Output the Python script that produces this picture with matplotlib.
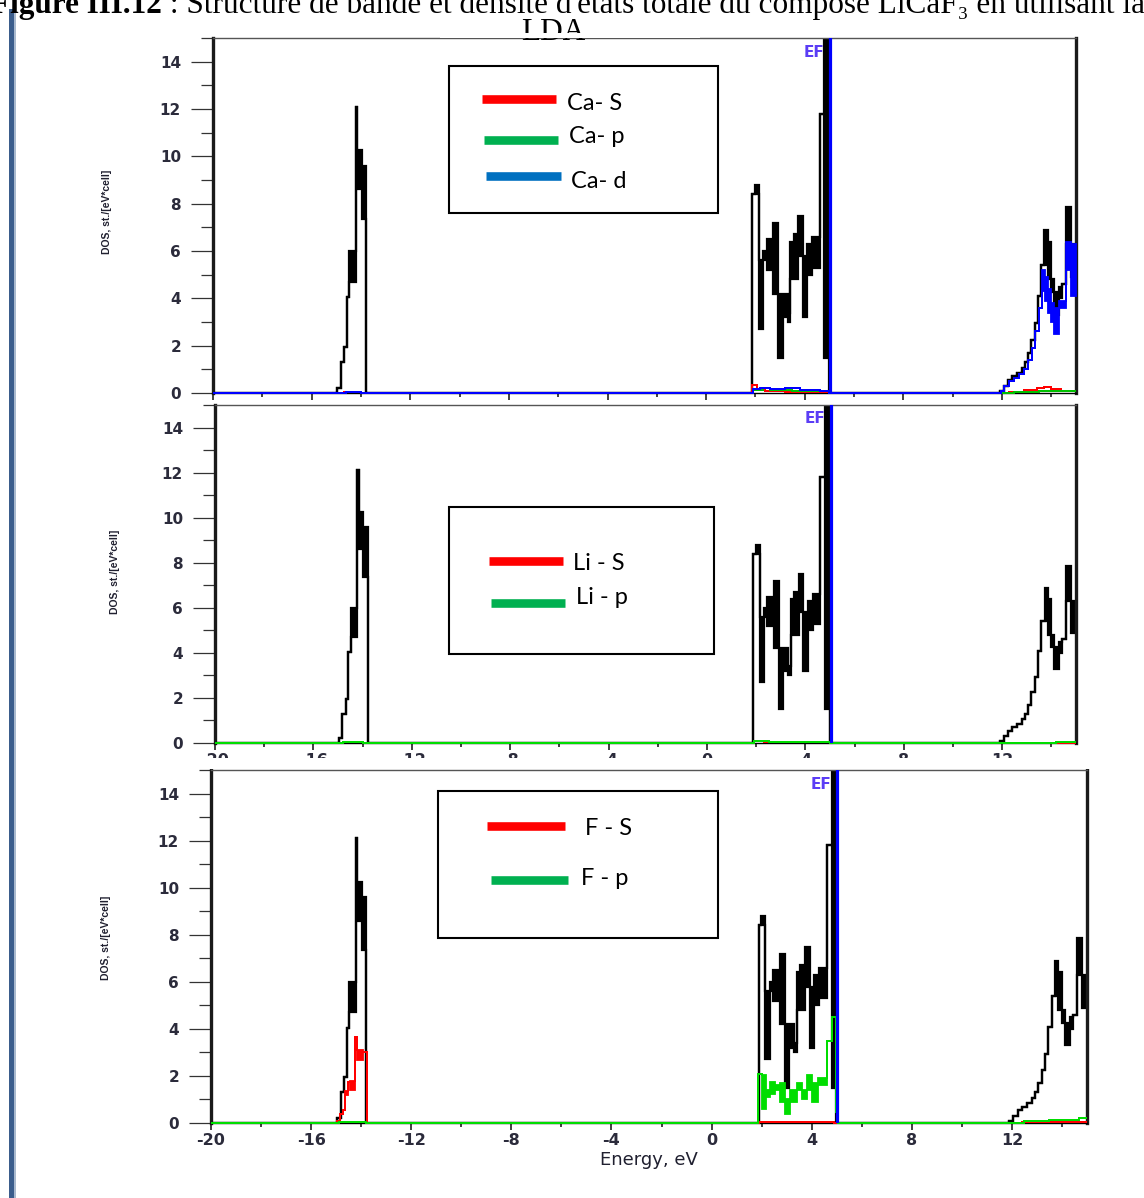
import matplotlib
matplotlib.use("Agg")
import matplotlib.pyplot as plt
from matplotlib.patches import Rectangle
from matplotlib import font_manager

# ---------------------------------------------------------------- data
E_MIN, E_MAX = -20.0, 15.0
DOS_MAX = 15.0
E_FERMI = 5.03

x_major = [-20, -16, -12, -8, -4, 0, 4, 8, 12]
x_minor = [-18, -14, -10, -6, -2, 2, 6, 10, 14]
x_labels = ["-20", "-16", "-12", "-8", "-4", "0", "4", "8", "12"]
y_major = [0, 2, 4, 6, 8, 10, 12, 14]
y_minor = [1, 3, 5, 7, 9, 11, 13, 15]
y_labels = ["0", "2", "4", "6", "8", "10", "12", "14"]

# Total DOS (states/eV/cell) on energy bins; where the curve oscillates fast
# inside a bin, tot_lo/tot_hi give the band it sweeps through.
tot_edges = [-20.0, -14.96, -14.82, -14.69, -14.58, -14.47, -14.21, -14.15, -13.97, -13.80,
             1.88, 1.98, 2.15, 2.32, 2.45, 2.72, 2.92, 3.10, 3.30, 3.42, 3.55, 3.72,
             3.92, 4.10, 4.30, 4.60, 4.80, 4.98, 5.02,
             11.90, 12.06, 12.25, 12.39, 12.59, 12.79, 12.92, 13.05, 13.19, 13.32,
             13.45, 13.59, 13.72, 13.85, 13.99, 14.12, 14.32, 14.45, 14.59, 14.79, 15.0]
tot_hi = [0, 0.2, 1.3, 1.95, 4.05, 6.0, 12.1, 10.25, 9.6,
          0,
          8.4, 8.8, 5.6, 6.0, 6.5, 7.2, 4.2, 4.2, 3.4, 6.4, 6.7, 7.5, 5.8, 6.3, 6.6,
          11.8, 18.0, 1.5,
          0,
          0.1, 0.3, 0.55, 0.7, 0.85, 1.05, 1.3, 1.7, 2.25, 2.95, 4.1, 5.4, 6.9, 6.4,
          4.8, 4.25, 4.5, 4.6, 7.85, 6.3]
tot_lo = [0, 0.2, 1.3, 1.95, 4.05, 4.7, 12.1, 8.6, 7.35,
          0,
          8.4, 8.4, 2.7, 5.6, 5.2, 4.2, 1.5, 3.2, 3.0, 4.8, 4.8, 5.8, 3.2, 5.0, 5.3,
          11.8, 1.5, 0.0,
          0,
          0.1, 0.3, 0.55, 0.7, 0.85, 1.05, 1.3, 1.7, 2.25, 2.95, 4.1, 5.4, 5.4, 4.8,
          4.25, 3.3, 4.0, 4.6, 6.3, 4.9]

# Ca partial DOS
ca_s_edges = [-20, -14.7, -14.0, 1.88, 2.05, 2.4, 3.2, 4.0, 5.0, 12.3, 12.9, 13.4, 13.7, 14.0, 14.4, 15.0]
ca_s_val = [0, 0.03, 0, 0.35, 0.12, 0.08, 0.06, 0.05, 0, 0.05, 0.12, 0.2, 0.27, 0.15, 0.08]

ca_p_edges = [-20, -14.6, -14.0, 1.9, 2.3, 2.6, 3.5, 4.2, 5.0, 12.5, 13.5, 14.3, 15.0]
ca_p_val = [0, 0.06, 0, 0.12, 0.2, 0.12, 0.1, 0.08, 0, 0.05, 0.1, 0.08]

ca_d_edges = [-20, -14.6, -14.0, 1.9, 2.2, 2.6, 3.2, 3.8, 4.6, 5.0,
              11.95, 12.10, 12.30, 12.50, 12.70, 12.90, 13.05, 13.20, 13.35, 13.50,
              13.62, 13.75, 13.88, 14.00, 14.12, 14.30, 14.60, 14.80, 15.00]
ca_d_hi = [0, 0.04, 0, 0.15, 0.22, 0.15, 0.2, 0.12, 0.08, 0,
           0.1, 0.3, 0.5, 0.65, 0.8, 1.0, 1.4, 1.9, 2.6, 3.6,
           5.2, 4.9, 4.4, 3.8, 3.6, 3.9, 6.4, 6.3]
ca_d_lo = [0, 0.04, 0, 0.15, 0.22, 0.15, 0.2, 0.12, 0.08, 0,
           0.1, 0.3, 0.5, 0.65, 0.8, 1.0, 1.4, 1.9, 2.6, 3.6,
           4.3, 3.9, 3.4, 3.0, 2.5, 3.6, 5.2, 4.1]

# Li partial DOS
li_s_edges = [-20, -14.8, -14.0, 1.9, 2.3, 3.0, 4.0, 5.0, 15.0]
li_s_val = [0, 0.05, 0, 0.08, 0.05, 0.04, 0.03, 0]
li_p_edges = [-20, -14.8, -14.0, 1.9, 2.5, 3.5, 5.0, 14.2, 15.0]
li_p_val = [0, 0.03, 0, 0.1, 0.06, 0.05, 0, 0.06]

# F partial DOS
f_s_edges = [-20, -14.95, -14.85, -14.72, -14.65, -14.51, -14.45, -14.25, -14.16,
             -13.92, -13.78, 1.9, 4.9, 12.4, 15.0]
f_s_hi = [0, 0.07, 0.4, 0.55, 1.35, 1.76, 1.8, 3.67, 3.1, 3.03, 0, 0.06, 0, 0.05]
f_s_lo = [0, 0.07, 0.4, 0.55, 1.2, 1.76, 1.4, 3.67, 2.67, 3.03, 0, 0.06, 0, 0.05]

f_p_edges = [-20, -14.9, -13.8, 1.85, 2.00, 2.17, 2.33, 2.53, 2.73, 2.93, 3.13, 3.40,
             3.60, 3.80, 4.00, 4.26, 4.60, 4.80, 4.97, 5.05, 12.5, 13.5, 14.7, 15.0]
f_p_hi = [0, 0.03, 0, 2.1, 2.05, 1.4, 1.75, 1.6, 1.7, 1.0, 1.4, 1.7, 1.4, 2.05, 1.7,
          1.9, 3.5, 4.5, 0.48, 0, 0.08, 0.12, 0.22]
f_p_lo = [0, 0.03, 0, 2.1, 0.6, 1.1, 1.25, 1.4, 0.9, 0.4, 0.9, 1.4, 1.0, 1.4, 0.9,
          1.6, 3.5, 4.5, 0.48, 0, 0.08, 0.12, 0.22]

# ---------------------------------------------------------------- figure
W, H = 1144, 1198
fig = plt.figure(figsize=(W / 100, H / 100), dpi=100)
fig.patch.set_facecolor("white")

available = {f.name for f in font_manager.fontManager.ttflist}
narrow = "Liberation Sans Narrow" if "Liberation Sans Narrow" in available else "Liberation Sans"

RED, GREEN, BLUE, BLACK = "#ff0000", "#00dd00", "#0000ff", "#000000"
TICK_COLOR = "#2b2b3b"
SERIF = ["Liberation Serif", "DejaVu Serif"]


def px_axes(left, top, right, bottom):
    return fig.add_axes([left / W, 1 - bottom / H, (right - left) / W, (bottom - top) / H])


def draw_dos(ax, edges, hi, lo=None, color=BLACK, lw=1.5, z=2, clip=True):
    base = hi if lo is None else lo
    ax.stairs(hi, edges, baseline=base, fill=True, facecolor=color, edgecolor=color,
              lw=lw, zorder=z, clip_on=clip)


def style_axes(ax, xlabels):
    ax.set_xlim(E_MIN, E_MAX)
    ax.set_ylim(0, DOS_MAX)
    ax.set_xticks(x_major)
    ax.set_xticks(x_minor, minor=True)
    ax.set_yticks(y_major)
    ax.set_yticks(y_minor, minor=True)
    ax.set_yticklabels(y_labels, fontsize=11, fontweight="bold", color=TICK_COLOR)
    if xlabels:
        ax.set_xticklabels(x_labels, fontsize=11.5, fontweight="bold", color=TICK_COLOR)
    else:
        ax.set_xticklabels([])
    ax.tick_params(axis="y", which="major", direction="out", length=16, width=0.9,
                   pad=7, color="#333333")
    ax.tick_params(axis="y", which="minor", direction="out", length=8.5, width=0.9,
                   color="#333333")
    ax.tick_params(axis="x", which="major", direction="out", length=5, width=1.3,
                   pad=2.5, color="#333333")
    ax.tick_params(axis="x", which="minor", direction="out", length=3, width=1.3,
                   color="#333333")
    for side in ("left", "right"):
        ax.spines[side].set_linewidth(2.4)
        ax.spines[side].set_color("#1a1a1a")
    ax.spines["top"].set_linewidth(1.0)
    ax.spines["top"].set_color("#555555")
    ax.spines["bottom"].set_linewidth(1.0)
    ax.set_ylabel("DOS, st./[eV*cell]", fontsize=7.5, family=narrow, fontweight="bold",
                  color="#202030")
    ax.axvline(E_FERMI, color=BLUE, lw=2.3, zorder=5)
    ax.text(4.37, 14.4, "EF", color="#5b3df5", fontsize=11, fontweight="bold",
            ha="center", va="center", zorder=4)


ax1 = px_axes(213, 38, 1076, 393)
ax2 = px_axes(215, 405, 1076, 743)
ax3 = px_axes(211, 770, 1087, 1123)

# panel 1: Ca
draw_dos(ax1, tot_edges, tot_hi, tot_lo, BLACK, 1.6)
draw_dos(ax1, ca_s_edges, ca_s_val, None, RED, 1.3, 3, False)
draw_dos(ax1, ca_p_edges, ca_p_val, None, "#00c000", 1.3, 3, False)
draw_dos(ax1, ca_d_edges, ca_d_hi, ca_d_lo, BLUE, 1.3, 3, False)
style_axes(ax1, False)
ax1.yaxis.set_label_coords(-101 / 863, 0.51)

# panel 2: Li
draw_dos(ax2, tot_edges, tot_hi, tot_lo, BLACK, 1.6)
draw_dos(ax2, li_s_edges, li_s_val, None, RED, 1.3, 3, False)
draw_dos(ax2, li_p_edges, li_p_val, None, GREEN, 1.3, 3, False)
style_axes(ax2, True)
ax2.yaxis.set_label_coords(-95 / 861, 0.506)

# panel 3: F
draw_dos(ax3, tot_edges, tot_hi, tot_lo, BLACK, 1.6)
draw_dos(ax3, f_s_edges, f_s_hi, f_s_lo, RED, 1.3, 3, False)
draw_dos(ax3, f_p_edges, f_p_hi, f_p_lo, GREEN, 1.3, 3, False)
style_axes(ax3, True)
ax3.yaxis.set_label_coords(-100 / 876, 0.524)
ax3.set_xlabel("Energy, eV", fontsize=13, color="#202030", labelpad=2)

# ---------------------------------------------------------------- page overlay (pixel coords)
ov = fig.add_axes([0, 0, 1, 1], zorder=10)
ov.set_xlim(0, W)
ov.set_ylim(H, 0)
ov.axis("off")
ov.patch.set_alpha(0)

# page margin bar
ov.add_patch(Rectangle((9, 9), 5, H - 9, color="#3b5d8c", lw=0))
ov.add_patch(Rectangle((14, 9), 1.5, H - 9, color="#a9b9ce", lw=0))

# caption line, running off the top of the page
ov.text(162, 13, "Figure III.12", family=SERIF, fontsize=22.5, fontweight="bold",
        ha="right", va="baseline")
ov.text(162, 13, " : Structure de bande et densité d'états totale du composé LiCaF\u2083 en utilisant la",
        family=SERIF, fontsize=22.5, ha="left", va="baseline")
ov.text(553, 40, "LDA", family=SERIF, fontsize=22.5, ha="center", va="baseline")
ov.add_patch(Rectangle((440, 32.5), 260, 5, color="white", lw=0, zorder=6))

# cut-off strip under the middle panel's tick labels
ov.add_patch(Rectangle((100, 758), 1044, 11, color="white", lw=0, zorder=6))

# legends
LEG_FONT = ["Lato", "DejaVu Sans"]
legends = [
    ((449, 66, 717.5, 213),
     [((482, 556, 98.5), "#ff0000", (567, 110), "Ca- S"),
      ((484, 558, 139.5), "#00b050", (569, 143), "Ca- p"),
      ((486, 561, 175.5), "#0070c0", (571, 188), "Ca- d")]),
    ((449, 507, 714, 654),
     [((489, 563, 560.5), "#ff0000", (573, 570), "Li - S"),
      ((491, 565, 603), "#00b050", (576, 604), "Li - p")]),
    ((438, 791, 717.5, 937.5),
     [((487, 565, 825.5), "#ff0000", (585, 835), "F - S"),
      ((491, 568, 879.5), "#00b050", (581, 885), "F - p")]),
]
for (x0, y0, x1, y1), entries in legends:
    ov.add_patch(Rectangle((x0, y0), x1 - x0, y1 - y0, facecolor="white",
                           edgecolor="black", lw=1.5))
    for (lx0, lx1, ly), col, (tx, ty), label in entries:
        ov.plot([lx0, lx1], [ly, ly], color=col, lw=6.2, solid_capstyle="butt")
        ov.text(tx, ty, label, family=LEG_FONT, fontsize=17, ha="left", va="baseline",
                color="black")

fig.savefig("out.png", dpi=100, facecolor="white")
